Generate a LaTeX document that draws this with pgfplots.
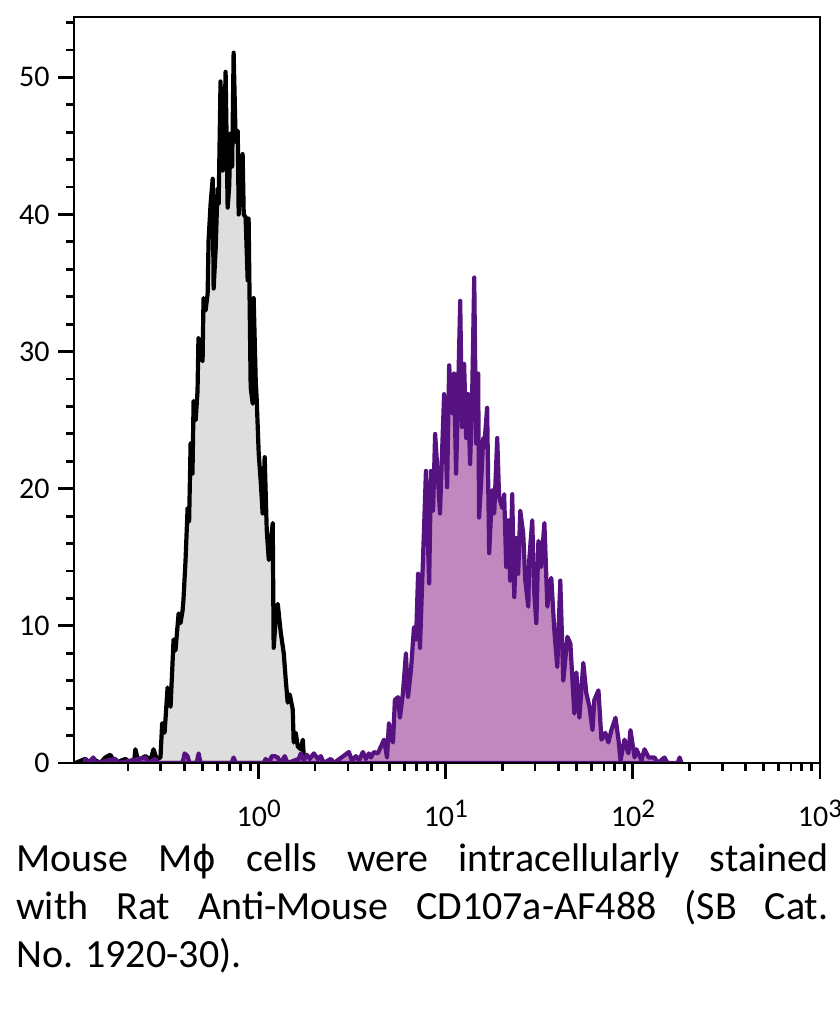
\documentclass[border=0pt]{standalone}
\usepackage{fontspec}
\setmainfont{Carlito}
\newfontfamily\symfont{DejaVu Sans}[Scale=0.9]
\usepackage{pgfplots}
\pgfplotsset{compat=1.18}
\usepackage{pgfplotstable}
\definecolor{grayfill}{RGB}{222,222,222}
\definecolor{purpfill}{RGB}{191,136,191}
\definecolor{purpline}{RGB}{85,18,128}
\newcommand{\expo}[1]{\raisebox{4.6bp}{\fontsize{13.5bp}{14bp}\selectfont #1}}

\pgfplotstableread{
lx y
-0.980 0
-0.927 0.3
-0.900 0
-0.873 0.2
-0.846 0
-0.820 0.4
-0.793 0.6
-0.766 0
-0.712 0.3
-0.686 0
-0.665 0.2
-0.659 1.0
-0.645 0.2
-0.632 0.3
-0.605 0.5
-0.578 0.2
-0.562 1.0
-0.546 0.3
-0.525 0.4
-0.516 2.9
-0.503 2.2
-0.487 5.5
-0.471 4.1
-0.455 9.0
-0.445 8.2
-0.428 10.9
-0.418 10.2
-0.407 11.1
-0.402 11.9
-0.391 14.8
-0.380 18.6
-0.372 17.6
-0.364 23.3
-0.354 21.1
-0.348 26.4
-0.337 25.0
-0.327 27.1
-0.322 31.0
-0.311 29.8
-0.300 29.3
-0.295 33.9
-0.284 33.0
-0.273 34.2
-0.268 38.1
-0.257 40.8
-0.246 42.6
-0.241 34.6
-0.230 37.5
-0.220 41.9
-0.214 40.8
-0.204 49.7
-0.193 43.2
-0.182 47.0
-0.177 50.4
-0.166 40.5
-0.158 42.0
-0.150 45.9
-0.142 43.5
-0.134 51.8
-0.123 45.3
-0.112 46.1
-0.107 40.0
-0.096 42.5
-0.086 44.4
-0.080 40.0
-0.070 39.8
-0.059 35.2
-0.054 39.7
-0.043 27.4
-0.032 26.2
-0.027 33.9
-0.016 27.9
-0.011 26.6
0.000 22.6
0.011 20.5
0.021 18.2
0.032 22.3
0.043 17.0
0.054 14.8
0.064 16.0
0.075 17.5
0.080 8.4
0.091 10.5
0.102 11.6
0.118 9.5
0.134 8.0
0.145 6.0
0.155 4.4
0.166 5.0
0.182 3.9
0.187 1.5
0.198 2.2
0.209 1.2
0.225 1.0
0.236 1.7
0.241 0.4
0.257 0
0.279 0.3
0.305 0
}\graydata

\pgfplotstableread{
lx y
-0.927 0.3
-0.911 0
-0.884 0.4
-0.868 0
-0.766 0.3
-0.750 0
-0.605 0.4
-0.589 0
-0.552 0.3
-0.536 0
-0.407 0
-0.396 0.7
-0.380 0.5
-0.370 0
-0.332 0
-0.321 0.7
-0.311 0
-0.145 0
-0.134 0.4
-0.123 0
0.027 0
0.037 0.3
0.054 0
0.070 0.5
0.086 0.5
0.102 0.4
0.118 0
0.139 0.5
0.155 0
0.214 0.3
0.225 0.7
0.241 0.2
0.257 0.6
0.273 0.3
0.295 0.7
0.316 0.3
0.332 0.5
0.348 0
0.386 0.3
0.402 0
0.482 0.8
0.498 0.2
0.520 0.5
0.536 0.2
0.557 0.8
0.573 0.3
0.589 0.7
0.600 0.4
0.616 0.8
0.637 0.7
0.653 1.2
0.670 1.7
0.686 0.4
0.696 2.9
0.707 1.8
0.718 1.5
0.728 4.6
0.745 4.8
0.755 3.3
0.771 5.1
0.787 8.0
0.798 4.8
0.814 6.8
0.830 9.9
0.841 9.0
0.852 13.8
0.862 8.4
0.878 14.8
0.884 17.2
0.894 21.3
0.911 13.1
0.921 21.3
0.932 18.4
0.943 24.0
0.959 20.6
0.969 18.2
0.980 22.6
0.991 26.9
1.007 20.1
1.018 29.0
1.034 25.5
1.044 28.4
1.055 21.1
1.066 27.1
1.077 33.7
1.087 24.5
1.098 29.1
1.109 23.7
1.119 26.9
1.130 21.8
1.141 26.9
1.152 35.4
1.162 23.3
1.173 28.4
1.178 17.9
1.189 20.5
1.200 23.7
1.205 23.0
1.221 25.9
1.232 15.3
1.248 19.9
1.259 18.2
1.275 23.7
1.285 19.4
1.302 18.6
1.312 19.6
1.323 14.3
1.334 17.7
1.344 13.3
1.355 19.6
1.366 12.1
1.377 16.4
1.387 13.8
1.398 18.4
1.414 16.7
1.425 13.3
1.441 11.4
1.446 14.8
1.462 17.7
1.473 12.4
1.484 10.2
1.495 16.2
1.510 14.3
1.527 17.5
1.543 11.4
1.553 12.8
1.564 13.5
1.580 9.7
1.596 7.0
1.612 13.3
1.628 6.0
1.650 9.2
1.666 8.7
1.687 3.6
1.698 6.6
1.714 3.3
1.735 7.3
1.751 5.1
1.768 4.1
1.784 2.4
1.794 4.6
1.816 5.3
1.832 1.7
1.853 2.2
1.869 1.5
1.885 2.4
1.907 3.3
1.923 1.7
1.934 0.2
1.955 1.7
1.976 0.7
1.987 2.4
2.009 0.4
2.019 1.0
2.046 0.2
2.062 1.0
2.084 0.4
2.116 0.4
2.132 0
2.169 0.4
2.185 0
2.239 0
2.250 0.4
2.260 0
}\purpdata

\begin{document}
\begin{tikzpicture}
\useasboundingbox (0,0) rectangle (420bp,504.5bp);
\begin{axis}[
  at={(37bp,123bp)}, anchor=south west, scale only axis,
  width=373bp, height=373bp,
  xmode=log, xmin=0.103, xmax=1000, ymin=0, ymax=54.4,
  axis line style={line width=1.4bp},
  axis on top,
  xtick={1,10,100,1000},
  xticklabels={10\expo{0},10\expo{1},10\expo{2},10\expo{3}},
  minor xtick={0.2,0.3,0.4,0.5,0.6,0.7,0.8,0.9,2,3,4,5,6,7,8,9,20,30,40,50,60,70,80,90,200,300,400,500,600,700,800,900},
  ytick={0,10,20,30,40,50},
  minor ytick={2,4,6,8,12,14,16,18,22,24,26,28,32,34,36,38,42,44,46,48,52,54},
  tick align=outside,
  xtick pos=bottom, ytick pos=left,
  major tick style={line width=1.4bp, black},
  minor tick style={line width=1.4bp, black},
  major tick length=8bp, minor tick length=4bp,
  tick label style={font=\fontsize{15bp}{17bp}\selectfont},
  /pgf/number format/assume math mode=true,
  xticklabel style={anchor=base, yshift=-24bp},
  yticklabel style={anchor=east, xshift=-4bp, inner sep=0pt},
]
\addplot[draw=black, line width=2.1bp, fill=grayfill, line join=round]
  table[x expr={10^(\thisrow{lx})}, y=y]{\graydata} \closedcycle;
\addplot[draw=purpline, line width=2.1bp, fill=purpfill, line join=round]
  table[x expr={10^(\thisrow{lx})}, y=y]{\purpdata} \closedcycle;
\end{axis}
\begin{scope}[every node/.style={anchor=base west, inner sep=0pt, font=\fontsize{20bp}{23.75bp}\selectfont}]
\node at (8bp,68.5bp) {\makebox[406bp][s]{Mouse M{\symfont ϕ} cells were intracellularly stained}};
\node at (8bp,44.5bp) {\makebox[406bp][s]{with Rat Anti-Mouse CD107a-AF488 (SB Cat.}};
\node at (8bp,21bp) {No. 1920-30).};
\end{scope}
\end{tikzpicture}
\end{document}
